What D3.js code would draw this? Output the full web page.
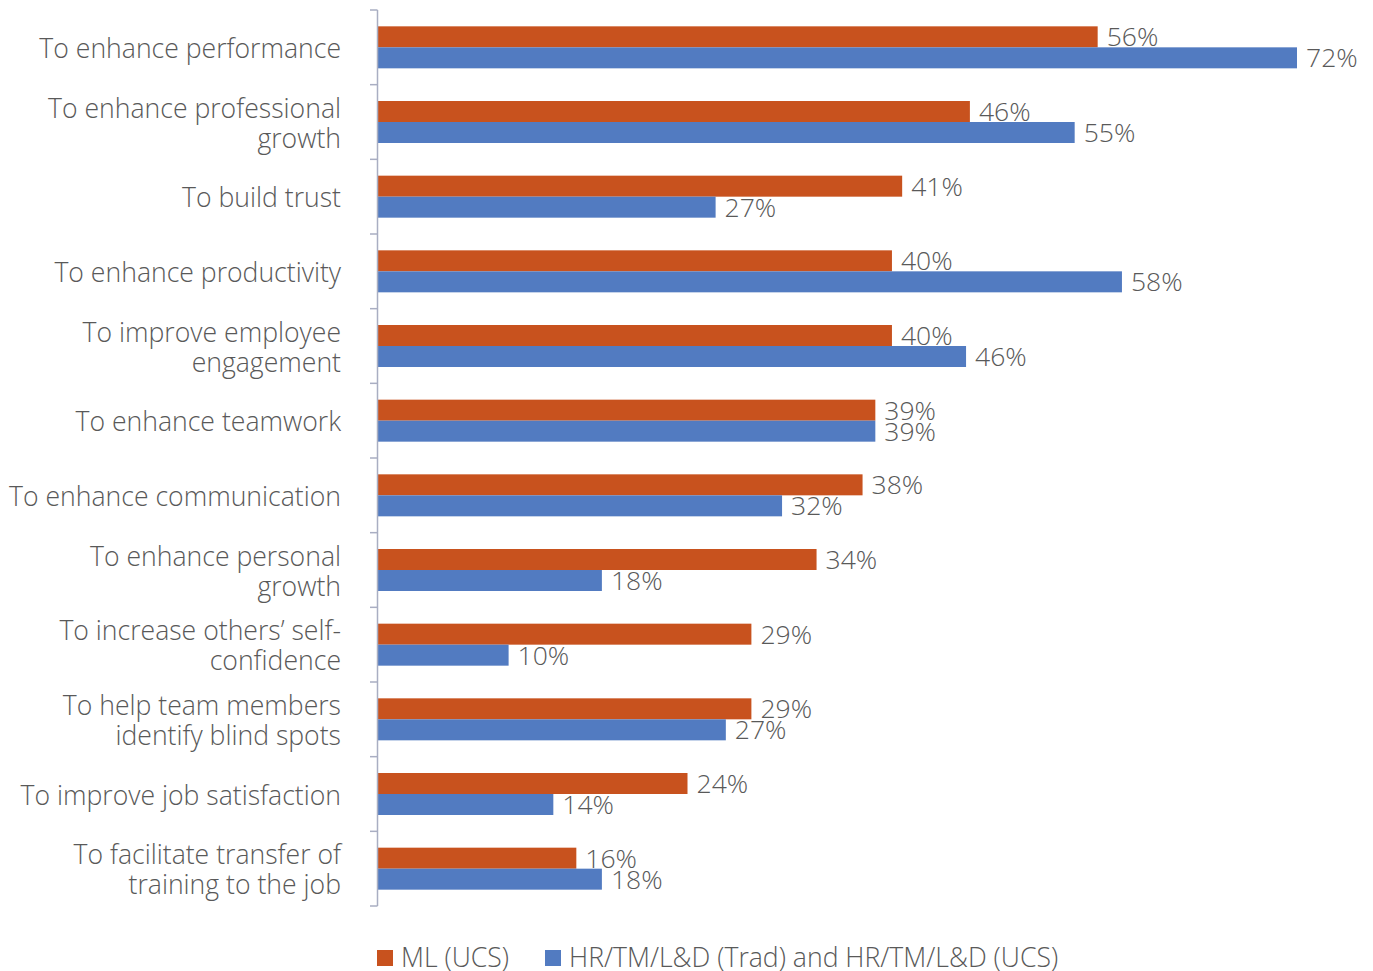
<!DOCTYPE html>
<html><head><meta charset="utf-8">
<script src="https://cdn.jsdelivr.net/npm/d3@7"></script>
<style>body{margin:0;background:#fff}svg{display:block}text{font-family:"Open Sans",sans-serif;font-weight:300;fill:#595959}</style>
</head><body>
<svg id="c" width="1373" height="971"></svg>
<script>
const categories = [
  ["To enhance performance"],
  ["To enhance professional","growth"],
  ["To build trust"],
  ["To enhance productivity"],
  ["To improve employee","engagement"],
  ["To enhance teamwork"],
  ["To enhance communication"],
  ["To enhance personal","growth"],
  ["To increase others\u2019 self-","confidence"],
  ["To help team members","identify blind spots"],
  ["To improve job satisfaction"],
  ["To facilitate transfer of","training to the job"]
];
const seriesNames = ["ML (UCS)", "HR/TM/L&D (Trad) and HR/TM/L&D (UCS)"];
// bar lengths (labels are rounded)
const mlValues = [56.4,46.4,41.1,40.3,40.3,39.0,38.0,34.4,29.3,29.3,24.3,15.6];
const hrValues = [72.0,54.6,26.5,58.3,46.1,39.0,31.7,17.6,10.3,27.3,13.8,17.6];
const mlLabels = ["56%","46%","41%","40%","40%","39%","38%","34%","29%","29%","24%","16%"];
const hrLabels = ["72%","55%","27%","58%","46%","39%","32%","18%","10%","27%","14%","18%"];
const colors = ["#C8521E","#527BC1"];

const svg = d3.select("#c");
const idx = d3.range(categories.length);
const y = d3.scaleBand().domain(idx).range([10, 906]).paddingInner(0.4375).paddingOuter(0.21875);
const x = d3.scaleLinear().domain([0,72]).range([377,1297]);
const ySub = d3.scaleBand().domain([0,1]).range([0, y.bandwidth()]);

const series = [mlValues, hrValues];
const labels = [mlLabels, hrLabels];
series.forEach((vals, s) => {
  const g = svg.append("g");
  g.selectAll("rect").data(idx).join("rect")
    .attr("x", x(0)).attr("y", i => y(i) + ySub(s))
    .attr("width", i => x(vals[i]) - x(0)).attr("height", ySub.bandwidth())
    .attr("fill", colors[s]);
  g.selectAll("text").data(idx).join("text")
    .attr("x", i => x(vals[i]) + 9).attr("y", i => y(i) + ySub(s) + ySub.bandwidth()/2)
    .attr("dy", "0.36em").attr("font-size", 26.5)
    .text(i => labels[s][i]);
});

// axis line with ticks at band boundaries
const axisCol = "#A9AEC2";
svg.append("line").attr("x1", 377.5).attr("x2", 377.5).attr("y1", 10).attr("y2", 906).attr("stroke", axisCol).attr("stroke-width", 1.5);
svg.selectAll(".tk").data(d3.range(categories.length + 1)).join("line")
  .attr("x1", 370).attr("x2", 377.5)
  .attr("y1", k => 10 + k * (896 / categories.length)).attr("y2", k => 10 + k * (896 / categories.length))
  .attr("stroke", axisCol).attr("stroke-width", 1.5);

// category labels
const lh = 30;
svg.selectAll(".cat").data(idx).join("text")
  .attr("text-anchor", "end").attr("font-size", 26.6)
  .each(function(i){
    const lines = categories[i];
    const cy = y(i) + y.bandwidth()/2 + 1;
    const t = d3.select(this);
    lines.forEach((ln, j) => {
      t.append("tspan").attr("x", 341)
        .attr("y", cy + (j - (lines.length-1)/2) * lh)
        .attr("dy", "0.36em").text(ln);
    });
  });

// legend
const legX = [377, 545];
seriesNames.forEach((n, s) => {
  svg.append("rect").attr("x", legX[s]).attr("y", 950).attr("width", 16).attr("height", 16).attr("fill", colors[s]);
  svg.append("text").attr("x", legX[s] + 24).attr("y", 957).attr("dy", "0.36em").attr("font-size", 26.6).text(n);
});
</script>
</body></html>
